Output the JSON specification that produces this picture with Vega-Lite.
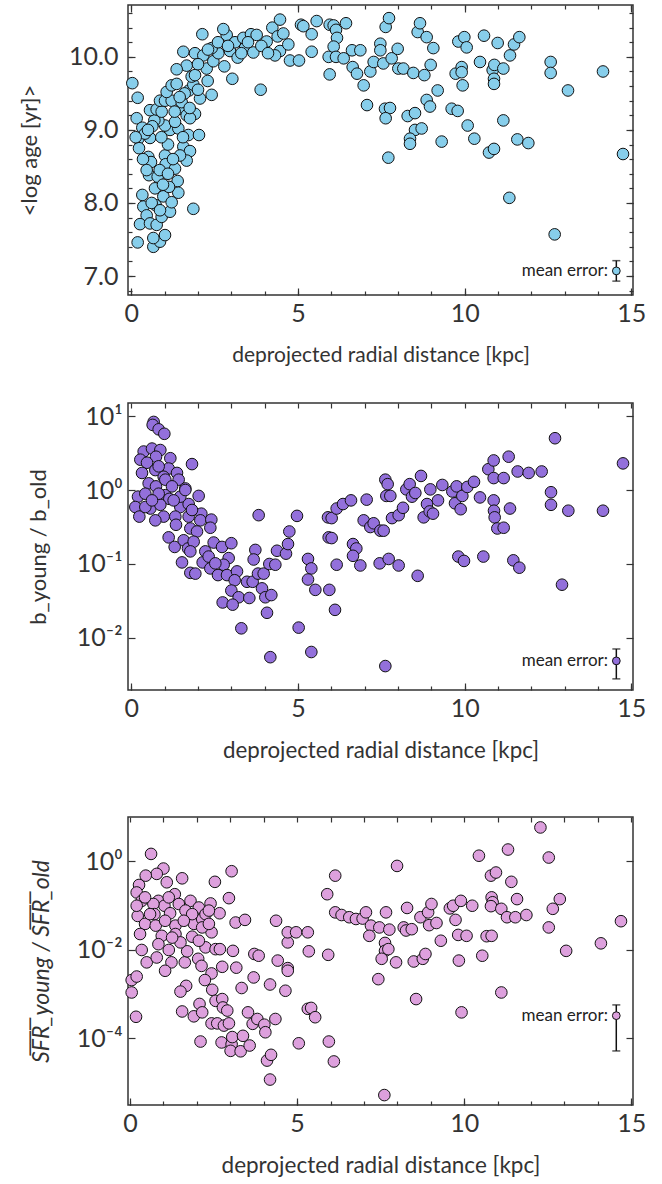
{
"$schema": "https://vega.github.io/schema/vega-lite/v6.json",
"padding": {"left": 17, "top": 3, "right": 0, "bottom": 0},
"config": {
  "font": "Lato",
  "view": {"stroke": "#333", "strokeWidth": 1.5},
  "axis": {"domain": false, "grid": false, "labelFont": "Lato, DejaVu Sans", "labelFontSize": 25, "labelColor": "#333", "tickColor": "#333", "tickWidth": 1.2, "titleFont": "Lato", "titleFontWeight": "normal", "titleColor": "#333"}
},
"datasets": {
"age": [
{"d":0.03,"v":9.64},{"d":0.19,"v":9.44},{"d":0.16,"v":9.16},{"d":0.33,"v":9.03},{"d":0.21,"v":8.88},{"d":0.56,"v":8.89},{"d":0.23,"v":8.75},{"d":0.51,"v":8.63},{"d":0.59,"v":8.56},{"d":0.53,"v":8.38},{"d":0.79,"v":8.36},{"d":0.71,"v":8.2},{"d":0.33,"v":8.11},{"d":0.96,"v":8.09},{"d":0.36,"v":7.95},{"d":0.46,"v":7.83},{"d":0.73,"v":7.97},{"d":0.26,"v":7.71},{"d":0.56,"v":7.72},{"d":0.76,"v":7.7},{"d":0.91,"v":7.81},{"d":1.16,"v":7.88},{"d":0.19,"v":7.46},{"d":0.66,"v":7.4},{"d":0.86,"v":7.47},{"d":1.01,"v":7.56},{"d":0.66,"v":7.52},
{"d":1.01,"v":8.65},{"d":1.03,"v":8.53},{"d":1.31,"v":8.47},{"d":1.39,"v":8.3},{"d":1.41,"v":8.14},{"d":1.13,"v":8.22},{"d":1.21,"v":8.01},{"d":1.86,"v":7.92},
{"d":1.56,"v":8.77},{"d":1.76,"v":8.71},{"d":1.66,"v":8.58},{"d":1.46,"v":8.65},{"d":1.71,"v":8.93},{"d":2.03,"v":8.93},{"d":1.16,"v":9.0},{"d":1.01,"v":9.06},{"d":0.81,"v":9.13},{"d":0.69,"v":9.13},{"d":0.56,"v":9.27},{"d":0.76,"v":9.28},{"d":0.91,"v":9.25},{"d":0.86,"v":9.4},{"d":1.01,"v":9.4},{"d":1.21,"v":9.4},{"d":1.06,"v":9.52},{"d":1.21,"v":9.61},{"d":1.36,"v":9.63},{"d":1.51,"v":9.29},{"d":1.66,"v":9.2},{"d":1.91,"v":9.22},{"d":1.76,"v":9.16},{"d":1.41,"v":9.02},{"d":1.31,"v":9.11},
{"d":1.51,"v":9.38},{"d":1.73,"v":9.54},{"d":1.86,"v":9.62},{"d":2.06,"v":9.43},{"d":2.41,"v":9.48},{"d":1.81,"v":9.73},{"d":1.91,"v":9.75},{"d":1.66,"v":9.88},{"d":1.36,"v":9.83},{"d":1.56,"v":10.07},{"d":1.91,"v":10.05},{"d":2.16,"v":10.02},{"d":2.29,"v":9.67},{"d":2.26,"v":9.84},{"d":2.46,"v":9.94},{"d":2.61,"v":10.05},{"d":2.41,"v":10.12},{"d":2.13,"v":10.31},{"d":2.79,"v":9.87},{"d":2.96,"v":10.08},{"d":3.03,"v":9.7},{"d":2.86,"v":10.3},{"d":2.76,"v":10.38},{"d":3.19,"v":9.99},{"d":3.11,"v":10.2},{"d":3.36,"v":10.26},{"d":3.41,"v":10.12},{"d":3.59,"v":10.31},{"d":3.66,"v":10.06},{"d":3.76,"v":10.3},{"d":3.88,"v":9.55},{"d":4.06,"v":10.21},{"d":4.23,"v":10.4},{"d":4.39,"v":10.28},{"d":4.46,"v":10.51},{"d":4.56,"v":10.32},{"d":4.46,"v":10.08},{"d":4.31,"v":10.02},{"d":4.71,"v":10.17},{"d":4.76,"v":9.95},{"d":5.03,"v":9.95},{"d":5.09,"v":10.44},{"d":5.16,"v":10.42},{"d":5.41,"v":10.31},{"d":5.41,"v":10.07},{"d":5.56,"v":10.49},{"d":5.95,"v":10.44},{"d":5.92,"v":10.0},{"d":5.95,"v":9.76},
{"d":0.41,"v":8.95},{"d":0.13,"v":8.9},{"d":0.63,"v":9.05},{"d":0.46,"v":8.45},{"d":0.85,"v":8.45},{"d":0.95,"v":8.25},{"d":0.61,"v":8.0},{"d":0.86,"v":7.9},{"d":1.1,"v":8.4},{"d":1.25,"v":8.6},{"d":1.1,"v":8.8},{"d":0.9,"v":8.9},{"d":1.3,"v":9.25},{"d":1.6,"v":9.5},{"d":2.0,"v":9.55},{"d":2.0,"v":9.9},{"d":2.3,"v":10.1},{"d":2.6,"v":10.2},{"d":2.9,"v":10.15},{"d":3.3,"v":10.05},{"d":3.5,"v":10.2},{"d":3.9,"v":10.15},{"d":4.1,"v":10.05},{"d":1.45,"v":9.45},{"d":1.75,"v":9.3},{"d":1.55,"v":8.9},{"d":0.5,"v":9.0},{"d":0.35,"v":8.6},
{"d":6.07,"v":10.43},{"d":6.14,"v":10.37},{"d":6.17,"v":10.26},{"d":6.07,"v":10.14},{"d":6.14,"v":10.0},{"d":6.44,"v":10.46},{"d":6.37,"v":9.98},{"d":6.62,"v":10.09},{"d":6.64,"v":9.86},{"d":6.77,"v":9.77},{"d":6.87,"v":10.09},{"d":6.97,"v":9.61},{"d":7.07,"v":9.34},{"d":7.17,"v":9.8},{"d":7.27,"v":9.93},{"d":7.47,"v":10.18},{"d":7.47,"v":10.09},{"d":7.56,"v":9.91},{"d":7.63,"v":10.41},{"d":7.73,"v":10.53},{"d":7.61,"v":9.29},{"d":7.76,"v":9.3},{"d":7.63,"v":9.16},{"d":7.71,"v":8.62},{"d":7.81,"v":9.98},{"d":7.99,"v":10.11},{"d":8.01,"v":9.84},{"d":8.16,"v":9.84},{"d":8.29,"v":9.19},{"d":8.46,"v":9.78},{"d":8.51,"v":9.23},{"d":8.51,"v":9.0},{"d":8.71,"v":9.02},{"d":8.36,"v":8.88},{"d":8.36,"v":8.81},{"d":8.59,"v":10.34},{"d":8.66,"v":10.46},{"d":8.79,"v":9.75},{"d":8.86,"v":10.27},{"d":8.86,"v":9.41},{"d":8.96,"v":9.32},{"d":8.98,"v":9.89},{"d":9.06,"v":10.12},{"d":9.19,"v":9.54},{"d":9.31,"v":8.84},{"d":9.61,"v":9.29},{"d":9.79,"v":9.26},{"d":9.73,"v":9.77},{"d":9.81,"v":10.21},{"d":9.91,"v":9.86},{"d":9.91,"v":9.79},{"d":9.94,"v":9.61},{"d":9.99,"v":10.27},{"d":10.06,"v":10.13},{"d":10.09,"v":9.06},{"d":10.29,"v":8.88},{"d":10.46,"v":9.93},{"d":10.58,"v":10.29},{"d":10.73,"v":8.69},{"d":10.88,"v":8.74},{"d":10.84,"v":9.82},{"d":10.88,"v":9.7},{"d":10.88,"v":9.63},{"d":10.89,"v":9.89},{"d":10.99,"v":10.19},{"d":11.16,"v":9.84},{"d":11.16,"v":9.13},{"d":11.34,"v":8.07},{"d":11.36,"v":10.02},{"d":11.48,"v":10.17},{"d":11.64,"v":10.27},{"d":11.58,"v":8.87},{"d":11.91,"v":8.82},{"d":12.58,"v":9.93},{"d":12.58,"v":9.78},{"d":12.7,"v":7.57},{"d":13.1,"v":9.54},{"d":14.15,"v":9.8},{"d":14.75,"v":8.67}
],
"b": [
{"d":0.67,"v":8.32},{"d":0.64,"v":7.59},{"d":0.82,"v":6.61},{"d":0.99,"v":5.75},{"d":1.82,"v":2.24},{"d":0.37,"v":3.31},{"d":0.27,"v":2.57},{"d":0.62,"v":3.63},{"d":0.87,"v":3.47},{"d":0.74,"v":2.82},{"d":1.17,"v":2.69},{"d":0.47,"v":2.34},{"d":0.72,"v":1.86},{"d":0.32,"v":1.7},{"d":1.12,"v":1.95},{"d":1.37,"v":1.7},{"d":1.42,"v":1.38},{"d":0.97,"v":1.51},{"d":0.52,"v":1.23},{"d":0.74,"v":1.12},{"d":1.62,"v":1.05},{"d":0.2,"v":0.813},{"d":0.42,"v":0.891},{"d":1.02,"v":0.851},{"d":1.14,"v":0.759},{"d":2.02,"v":0.832},{"d":0.12,"v":0.589},{"d":0.57,"v":0.562},{"d":0.24,"v":0.437},{"d":0.87,"v":0.631},{"d":1.47,"v":0.589},{"d":1.72,"v":0.646},{"d":0.97,"v":0.437},{"d":1.32,"v":0.437},{"d":0.72,"v":0.389},{"d":1.34,"v":0.339},{"d":2.1,"v":0.479},{"d":2.07,"v":0.389},{"d":2.4,"v":0.398},{"d":2.37,"v":0.309},{"d":1.77,"v":0.302},{"d":1.97,"v":0.275},{"d":1.12,"v":0.229},{"d":1.3,"v":0.17},{"d":1.57,"v":0.209},{"d":1.7,"v":0.162},{"d":1.87,"v":0.2},{"d":2.22,"v":0.148},{"d":2.47,"v":0.195},{"d":1.77,"v":0.148},{"d":1.52,"v":0.105},{"d":2.14,"v":0.105},{"d":2.37,"v":0.0871},{"d":1.77,"v":0.0759},{"d":1.92,"v":0.0741},{"d":2.72,"v":0.17},{"d":3.0,"v":0.191},{"d":2.92,"v":0.12},{"d":2.77,"v":0.0977},{"d":2.6,"v":0.0708},{"d":2.87,"v":0.0708},{"d":3.17,"v":0.0794},{"d":3.1,"v":0.0603},{"d":3.0,"v":0.0437},{"d":3.22,"v":0.0355},{"d":2.74,"v":0.0302},{"d":3.04,"v":0.0282},{"d":3.47,"v":0.0575},{"d":3.64,"v":0.0575},{"d":3.8,"v":0.0741},{"d":3.97,"v":0.0741},{"d":3.92,"v":0.0468},{"d":4.02,"v":0.0355},{"d":4.2,"v":0.038},{"d":3.54,"v":0.0347},{"d":4.07,"v":0.0219},{"d":3.3,"v":0.0135},{"d":4.17,"v":0.0055},{"d":3.82,"v":0.457},{"d":3.72,"v":0.155},{"d":3.67,"v":0.115},{"d":4.14,"v":0.1},{"d":4.32,"v":0.0977},{"d":4.37,"v":0.151},{"d":4.64,"v":0.138},{"d":4.7,"v":0.186},{"d":4.74,"v":0.275},{"d":4.97,"v":0.447},{"d":5.02,"v":0.0138},{"d":5.4,"v":0.00646},{"d":5.3,"v":0.117},{"d":5.4,"v":0.0871},{"d":5.3,"v":0.0617},{"d":5.52,"v":0.0447},{"d":5.9,"v":0.427},{"d":5.92,"v":0.229},{"d":5.94,"v":0.0447},
{"d":0.82,"v":2.09},{"d":1.02,"v":1.38},{"d":1.22,"v":1.12},{"d":0.82,"v":0.891},{"d":0.42,"v":0.589},{"d":0.62,"v":0.724},{"d":1.47,"v":0.813},{"d":1.72,"v":0.437},{"d":2.32,"v":0.126},{"d":2.52,"v":0.102},{"d":1.62,"v":1.0},{"d":1.27,"v":0.724},{"d":1.82,"v":0.537},
{"d":6.01,"v":0.417},{"d":6.01,"v":0.224},{"d":6.11,"v":0.024},{"d":6.16,"v":0.0977},{"d":6.16,"v":0.562},{"d":6.35,"v":0.646},{"d":6.59,"v":0.724},{"d":6.65,"v":0.186},{"d":6.75,"v":0.162},{"d":6.65,"v":0.129},{"d":6.87,"v":0.0955},{"d":7.06,"v":0.741},{"d":6.97,"v":0.389},{"d":7.17,"v":0.316},{"d":7.27,"v":0.355},{"d":7.47,"v":0.282},{"d":7.57,"v":0.282},{"d":7.45,"v":0.102},{"d":7.72,"v":0.117},{"d":8.02,"v":0.0955},{"d":7.62,"v":0.00417},{"d":7.62,"v":1.38},{"d":7.69,"v":1.2},{"d":7.65,"v":0.832},{"d":7.77,"v":0.832},{"d":7.82,"v":0.417},{"d":8.02,"v":0.457},{"d":8.15,"v":0.575},{"d":8.25,"v":1.02},{"d":8.35,"v":1.2},{"d":8.42,"v":0.813},{"d":8.52,"v":0.912},{"d":8.69,"v":1.55},{"d":8.59,"v":0.0692},{"d":8.77,"v":0.427},{"d":8.87,"v":0.646},{"d":8.97,"v":1.02},{"d":8.95,"v":0.513},{"d":9.05,"v":0.479},{"d":9.2,"v":0.724},{"d":9.33,"v":1.17},{"d":9.63,"v":0.955},{"d":9.76,"v":1.12},{"d":9.71,"v":0.661},{"d":9.88,"v":0.55},{"d":9.93,"v":0.832},{"d":10.08,"v":1.1},{"d":10.28,"v":1.29},{"d":9.81,"v":0.126},{"d":9.98,"v":0.11},{"d":10.46,"v":0.794},{"d":10.56,"v":0.126},{"d":10.71,"v":1.91},{"d":10.87,"v":2.51},{"d":10.87,"v":1.45},{"d":11.17,"v":1.45},{"d":10.87,"v":0.724},{"d":10.88,"v":0.525},{"d":10.9,"v":0.427},{"d":10.98,"v":0.302},{"d":11.17,"v":0.309},{"d":11.32,"v":2.82},{"d":11.36,"v":0.562},{"d":11.46,"v":0.112},{"d":11.64,"v":0.0891},{"d":11.59,"v":1.78},{"d":11.92,"v":1.7},{"d":12.31,"v":1.78},{"d":12.59,"v":0.933},{"d":12.59,"v":0.631},{"d":12.71,"v":5.01},{"d":12.92,"v":0.0525},{"d":13.11,"v":0.525},{"d":14.15,"v":0.525},{"d":14.75,"v":2.29}
],
"sfr": [
{"d":0.63,"v":1.45},{"d":1.0,"v":0.676},{"d":0.8,"v":0.513},{"d":0.47,"v":0.468},{"d":0.27,"v":0.288},{"d":0.2,"v":0.195},{"d":1.56,"v":0.407},{"d":1.1,"v":0.331},{"d":1.34,"v":0.178},{"d":2.54,"v":0.339},{"d":3.04,"v":0.589},{"d":2.96,"v":0.145},{"d":0.35,"v":0.126},{"d":0.85,"v":0.126},{"d":1.03,"v":0.0977},{"d":0.7,"v":0.107},{"d":1.2,"v":0.0661},{"d":1.81,"v":0.126},{"d":2.41,"v":0.11},{"d":2.68,"v":0.0661},{"d":0.23,"v":0.0575},{"d":0.73,"v":0.0631},{"d":0.45,"v":0.038},{"d":0.77,"v":0.0347},{"d":1.36,"v":0.0347},{"d":1.91,"v":0.038},{"d":2.16,"v":0.049},{"d":2.44,"v":0.0245},{"d":0.3,"v":0.0224},{"d":0.95,"v":0.0204},{"d":1.36,"v":0.0224},{"d":1.86,"v":0.0195},{"d":2.26,"v":0.0112},{"d":2.56,"v":0.0102},{"d":2.69,"v":0.0102},{"d":3.08,"v":0.00933},{"d":3.16,"v":0.0407},{"d":3.44,"v":0.0468},{"d":0.35,"v":0.00977},{"d":0.5,"v":0.00513},{"d":0.8,"v":0.00661},{"d":1.16,"v":0.00977},{"d":1.24,"v":0.00513},{"d":1.05,"v":0.00331},{"d":1.64,"v":0.00513},{"d":1.71,"v":0.00912},{"d":2.04,"v":0.00617},{"d":2.14,"v":0.00427},{"d":2.44,"v":0.00288},{"d":2.76,"v":0.00407},{"d":3.18,"v":0.00389},{"d":3.72,"v":0.00794},{"d":3.85,"v":0.00724},{"d":4.42,"v":0.00562},{"d":4.72,"v":0.0038},{"d":4.72,"v":0.00331},{"d":4.37,"v":0.0447},{"d":3.7,"v":0.00234},{"d":4.19,"v":0.00162},{"d":4.65,"v":0.00117},{"d":3.34,"v":0.00135},{"d":0.05,"v":0.00204},{"d":0.2,"v":0.00245},{"d":0.05,"v":0.00107},{"d":0.18,"v":0.000302},{"d":1.68,"v":0.00151},{"d":1.51,"v":0.00112},{"d":2.24,"v":0.00204},{"d":2.46,"v":0.00123},{"d":2.56,"v":0.000692},{"d":2.08,"v":0.000589},{"d":2.76,"v":0.000759},{"d":2.78,"v":0.00049},{"d":2.91,"v":0.000417},{"d":1.56,"v":0.000398},{"d":1.91,"v":0.000309},{"d":2.16,"v":0.00038},{"d":2.44,"v":0.000214},{"d":2.61,"v":0.000214},{"d":2.81,"v":0.000191},{"d":2.96,"v":0.000214},{"d":3.53,"v":0.00038},{"d":3.67,"v":0.000209},{"d":3.81,"v":0.000269},{"d":4.02,"v":0.0002},{"d":4.05,"v":0.000135},{"d":4.35,"v":0.000269},{"d":2.11,"v":0.0000832},{"d":2.74,"v":0.0000794},{"d":3.04,"v":0.0000724},{"d":3.06,"v":0.000105},{"d":3.01,"v":0.0000513},{"d":3.31,"v":0.0000501},{"d":3.38,"v":0.000112},{"d":3.58,"v":0.0000676},{"d":4.1,"v":0.0000309},{"d":4.22,"v":0.0000417},{"d":4.19,"v":0.0000115},{"d":5.05,"v":0.0000759},{"d":5.32,"v":0.000457},{"d":5.42,"v":0.000479},{"d":5.54,"v":0.000295},{"d":5.35,"v":0.00912},{"d":5.93,"v":0.00759},{"d":5.9,"v":0.178},{"d":6.14,"v":0.468},{"d":6.14,"v":0.0692},{"d":5.95,"v":0.0000832},{"d":6.1,"v":0.0000295},{"d":4.72,"v":0.0145},{"d":4.72,"v":0.0245},{"d":4.97,"v":0.0245},{"d":5.32,"v":0.0245},
{"d":0.45,"v":0.151},{"d":1.16,"v":0.151},{"d":1.46,"v":0.107},{"d":1.66,"v":0.0759},{"d":2.06,"v":0.0891},{"d":2.26,"v":0.0631},{"d":1.86,"v":0.0631},{"d":2.16,"v":0.0316},{"d":2.36,"v":0.038},{"d":1.61,"v":0.0447},{"d":1.05,"v":0.0447},{"d":0.6,"v":0.0631},{"d":0.2,"v":0.0977},{"d":0.85,"v":0.0132},{"d":1.51,"v":0.0145},{"d":2.06,"v":0.0158},{"d":1.26,"v":0.0186},{"d":2.36,"v":0.0759},
{"d":6.33,"v":0.0603},{"d":6.56,"v":0.0537},{"d":6.76,"v":0.049},{"d":6.96,"v":0.0501},{"d":7.06,"v":0.0692},{"d":7.21,"v":0.0347},{"d":7.16,"v":0.0204},{"d":7.46,"v":0.0316},{"d":7.66,"v":0.0692},{"d":7.76,"v":0.0282},{"d":7.63,"v":0.0141},{"d":7.63,"v":0.00933},{"d":7.73,"v":0.0102},{"d":7.53,"v":0.00617},{"d":7.43,"v":0.00214},{"d":7.61,"v":0.00000513},{"d":7.96,"v":0.00513},{"d":7.99,"v":0.776},{"d":8.19,"v":0.0316},{"d":8.26,"v":0.0269},{"d":8.29,"v":0.0871},{"d":8.43,"v":0.0288},{"d":8.49,"v":0.00537},{"d":8.56,"v":0.000759},{"d":8.69,"v":0.0537},{"d":8.76,"v":0.00617},{"d":8.84,"v":0.00794},{"d":8.92,"v":0.0692},{"d":8.95,"v":0.0355},{"d":9.02,"v":0.107},{"d":9.17,"v":0.0398},{"d":9.3,"v":0.0158},{"d":9.57,"v":0.0851},{"d":9.67,"v":0.0977},{"d":9.74,"v":0.0468},{"d":9.82,"v":0.0214},{"d":9.84,"v":0.00562},{"d":9.9,"v":0.126},{"d":9.92,"v":0.00038},{"d":10.07,"v":0.0204},{"d":10.24,"v":0.0977},{"d":10.44,"v":1.32},{"d":10.54,"v":0.00724},{"d":10.67,"v":0.02},{"d":10.82,"v":0.0204},{"d":10.8,"v":0.468},{"d":10.95,"v":0.55},{"d":10.82,"v":0.151},{"d":10.85,"v":0.117},{"d":10.8,"v":0.0955},{"d":11.11,"v":0.0832},{"d":11.11,"v":0.00107},{"d":11.28,"v":0.0537},{"d":11.31,"v":1.82},{"d":11.41,"v":0.339},{"d":11.53,"v":0.0537},{"d":11.58,"v":0.138},{"d":11.86,"v":0.0603},{"d":12.28,"v":5.75},{"d":12.53,"v":1.2},{"d":12.65,"v":0.0832},{"d":12.53,"v":0.0316},{"d":12.86,"v":0.138},{"d":13.05,"v":0.00933},{"d":14.09,"v":0.0138},{"d":14.69,"v":0.0437}
]
},
"spacing": 35,
"vconcat": [
{
  "width": 505, "height": 290,
  "resolve": {"axis": {"x": "independent", "y": "independent"}},
  "layer": [
    {"data": {"name": "age"},
     "mark": {"type": "circle", "size": 135, "opacity": 1, "fill": "#87CEEB", "stroke": "#111", "strokeWidth": 1},
     "encoding": {
       "x": {"field": "d", "type": "quantitative", "scale": {"domain": [-0.1, 15.05], "nice": false, "zero": false},
             "axis": {"orient": "bottom", "values": [0,5,10,15], "format": "d", "tickSize": 7, "offset": -7, "labelPadding": 6, "title": "deprojected radial distance [kpc]", "titleFontSize": 21, "titlePadding": 18}},
       "y": {"field": "v", "type": "quantitative", "scale": {"domain": [6.74, 10.71], "nice": false, "zero": false},
             "axis": {"orient": "left", "values": [7,8,9,10], "format": ".1f", "tickSize": 7, "offset": -7, "labelPadding": 10, "title": "<log age [yr]>", "titleFontSize": 22, "titlePadding": 27}}
     }},
    {"data": {"values": [{"d": 14.55, "lo": 6.93, "hi": 7.21}]},
     "mark": {"type": "errorbar", "ticks": true, "color": "#111", "thickness": 1.5, "size": 8},
     "encoding": {
       "x": {"field": "d", "type": "quantitative", "scale": {"domain": [-0.1, 15.05], "nice": false, "zero": false},
             "axis": {"orient": "top", "values": [0,5,10,15], "labels": false, "tickSize": 7, "offset": -7, "title": null}},
       "y": {"field": "lo", "type": "quantitative", "scale": {"domain": [6.74, 10.71], "nice": false, "zero": false},
             "axis": {"orient": "right", "values": [7,8,9,10], "labels": false, "tickSize": 7, "offset": -7, "title": null}},
       "y2": {"field": "hi"}
     }},
    {"data": {"values": [{"d": 14.55, "v": 7.07}]},
     "mark": {"type": "circle", "size": 60, "opacity": 1, "fill": "#87CEEB", "stroke": "#111", "strokeWidth": 1},
     "encoding": {
       "x": {"field": "d", "type": "quantitative", "scale": {"domain": [-0.1, 15.05], "nice": false, "zero": false},
             "axis": {"orient": "bottom", "values": [0,1,2,3,4,5,6,7,8,9,10,11,12,13,14,15], "labels": false, "tickSize": 4, "offset": -4, "title": null}},
       "y": {"field": "v", "type": "quantitative", "scale": {"domain": [6.74, 10.71], "nice": false, "zero": false},
             "axis": {"orient": "left", "values": [6.8,7.0,7.2,7.4,7.6,7.8,8.0,8.2,8.4,8.6,8.8,9.0,9.2,9.4,9.6,9.8,10.0,10.2,10.4,10.6], "labels": false, "tickSize": 4, "offset": -4, "title": null}}
     }},
    {"data": {"values": [{"d": 14.3, "v": 7.07, "t": "mean error:"}]},
     "mark": {"type": "text", "align": "right", "baseline": "middle", "fontSize": 17, "font": "Lato", "color": "#222"},
     "encoding": {
       "text": {"field": "t"},
       "x": {"field": "d", "type": "quantitative", "scale": {"domain": [-0.1, 15.05], "nice": false, "zero": false},
             "axis": {"orient": "top", "values": [0,1,2,3,4,5,6,7,8,9,10,11,12,13,14,15], "labels": false, "tickSize": 4, "offset": -4, "title": null}},
       "y": {"field": "v", "type": "quantitative", "scale": {"domain": [6.74, 10.71], "nice": false, "zero": false},
             "axis": {"orient": "right", "values": [6.8,7.0,7.2,7.4,7.6,7.8,8.0,8.2,8.4,8.6,8.8,9.0,9.2,9.4,9.6,9.8,10.0,10.2,10.4,10.6], "labels": false, "tickSize": 4, "offset": -4, "title": null}}
     }}
  ]
},
{
  "spacing": 52,
  "vconcat": [
  {
    "width": 505, "height": 287,
    "resolve": {"axis": {"x": "independent", "y": "independent"}},
    "layer": [
      {"data": {"name": "b"},
       "mark": {"type": "circle", "size": 135, "opacity": 1, "fill": "#9370DB", "stroke": "#111", "strokeWidth": 1},
       "encoding": {
         "x": {"field": "d", "type": "quantitative", "scale": {"domain": [-0.1, 15.05], "nice": false, "zero": false},
               "axis": {"orient": "bottom", "values": [0,5,10,15], "format": "d", "tickSize": 7, "offset": -7, "labelPadding": 6, "title": "deprojected radial distance [kpc]", "titleFontSize": 22.3, "titlePadding": 18}},
         "y": {"field": "v", "type": "quantitative", "scale": {"type": "log", "domain": [0.00198, 15.0], "nice": false},
               "axis": {"orient": "left", "values": [10, 1, 0.1, 0.01], "labelExpr": "datum.value >= 5 ? '10\u00b9' : datum.value >= 0.5 ? '10\u2070' : datum.value >= 0.05 ? '10\u207b\u00b9' : '10\u207b\u00b2'", "tickSize": 7, "offset": -7, "labelPadding": 6, "title": "b_young / b_old", "titleFontSize": 22, "titlePadding": 26}}
       }},
      {"data": {"values": [{"d": 14.55, "lo": 0.0028, "hi": 0.0071}]},
       "mark": {"type": "errorbar", "ticks": true, "color": "#111", "thickness": 1.5, "size": 8},
       "encoding": {
         "x": {"field": "d", "type": "quantitative", "scale": {"domain": [-0.1, 15.05], "nice": false, "zero": false},
               "axis": {"orient": "top", "values": [0,1,2,3,4,5,6,7,8,9,10,11,12,13,14,15], "labels": false, "tickSize": 5, "offset": -5, "title": null}},
         "y": {"field": "lo", "type": "quantitative", "scale": {"type": "log", "domain": [0.00198, 15.0], "nice": false},
               "axis": {"orient": "right", "values": [10, 1, 0.1, 0.01], "labels": false, "tickSize": 7, "offset": -7, "title": null}},
         "y2": {"field": "hi"}
       }},
      {"data": {"values": [{"d": 14.55, "v": 0.0049}]},
       "mark": {"type": "circle", "size": 60, "opacity": 1, "fill": "#9370DB", "stroke": "#111", "strokeWidth": 1},
       "encoding": {
         "x": {"field": "d", "type": "quantitative", "scale": {"domain": [-0.1, 15.05], "nice": false, "zero": false},
               "axis": {"orient": "bottom", "values": [0,1,2,3,4,5,6,7,8,9,10,11,12,13,14,15], "labels": false, "tickSize": 4, "offset": -4, "title": null}},
         "y": {"field": "v", "type": "quantitative", "scale": {"type": "log", "domain": [0.00198, 15.0], "nice": false}, "axis": null}
       }},
      {"data": {"values": [{"d": 14.3, "v": 0.0049, "t": "mean error:"}]},
       "mark": {"type": "text", "align": "right", "baseline": "middle", "fontSize": 17, "font": "Lato", "color": "#222"},
       "encoding": {
         "text": {"field": "t"},
         "x": {"field": "d", "type": "quantitative", "scale": {"domain": [-0.1, 15.05], "nice": false, "zero": false}, "axis": null},
         "y": {"field": "v", "type": "quantitative", "scale": {"type": "log", "domain": [0.00198, 15.0], "nice": false}, "axis": null}
       }}
    ]
  },
  {
    "width": 505, "height": 288,
    "resolve": {"axis": {"x": "independent", "y": "independent"}},
    "layer": [
      {"data": {"name": "sfr"},
       "mark": {"type": "circle", "size": 135, "opacity": 1, "fill": "#DDA0DD", "stroke": "#111", "strokeWidth": 1},
       "encoding": {
         "x": {"field": "d", "type": "quantitative", "scale": {"domain": [-0.06, 15.05], "nice": false, "zero": false},
               "axis": {"orient": "bottom", "values": [0,5,10,15], "format": "d", "tickSize": 7, "offset": -7, "labelPadding": 6, "title": "deprojected radial distance [kpc]", "titleFontSize": 22.5, "titlePadding": 18}},
         "y": {"field": "v", "type": "quantitative", "scale": {"type": "log", "domain": [0.00000306, 9.9], "nice": false},
               "axis": {"orient": "left", "values": [1, 0.01, 0.0001], "labelExpr": "datum.value >= 0.5 ? '10\u2070' : datum.value >= 0.005 ? '10\u207b\u00b2' : '10\u207b\u2074'", "tickSize": 7, "offset": -7, "labelPadding": 6, "title": "S\u0305F\u0305R\u0305_young / S\u0305F\u0305R\u0305_old", "titleFontSize": 23, "titleFontStyle": "italic", "titlePadding": 23}}
       }},
      {"data": {"values": [{"d": 14.55, "lo": 0.000051, "hi": 0.00056}]},
       "mark": {"type": "errorbar", "ticks": true, "color": "#111", "thickness": 1.5, "size": 8},
       "encoding": {
         "x": {"field": "d", "type": "quantitative", "scale": {"domain": [-0.06, 15.05], "nice": false, "zero": false},
               "axis": {"orient": "top", "values": [0,1,2,3,4,5,6,7,8,9,10,11,12,13,14,15], "labels": false, "tickSize": 5, "offset": -5, "title": null}},
         "y": {"field": "lo", "type": "quantitative", "scale": {"type": "log", "domain": [0.00000306, 9.9], "nice": false},
               "axis": {"orient": "right", "values": [1, 0.01, 0.0001], "labels": false, "tickSize": 7, "offset": -7, "title": null}},
         "y2": {"field": "hi"}
       }},
      {"data": {"values": [{"d": 14.55, "v": 0.00032}]},
       "mark": {"type": "circle", "size": 60, "opacity": 1, "fill": "#DDA0DD", "stroke": "#111", "strokeWidth": 1},
       "encoding": {
         "x": {"field": "d", "type": "quantitative", "scale": {"domain": [-0.06, 15.05], "nice": false, "zero": false},
               "axis": {"orient": "bottom", "values": [0,1,2,3,4,5,6,7,8,9,10,11,12,13,14,15], "labels": false, "tickSize": 4, "offset": -4, "title": null}},
         "y": {"field": "v", "type": "quantitative", "scale": {"type": "log", "domain": [0.00000306, 9.9], "nice": false}, "axis": null}
       }},
      {"data": {"values": [{"d": 14.3, "v": 0.00032, "t": "mean error:"}]},
       "mark": {"type": "text", "align": "right", "baseline": "middle", "fontSize": 17, "font": "Lato", "color": "#222"},
       "encoding": {
         "text": {"field": "t"},
         "x": {"field": "d", "type": "quantitative", "scale": {"domain": [-0.06, 15.05], "nice": false, "zero": false}, "axis": null},
         "y": {"field": "v", "type": "quantitative", "scale": {"type": "log", "domain": [0.00000306, 9.9], "nice": false}, "axis": null}
       }}
    ]
  }
  ]
}
]
}
